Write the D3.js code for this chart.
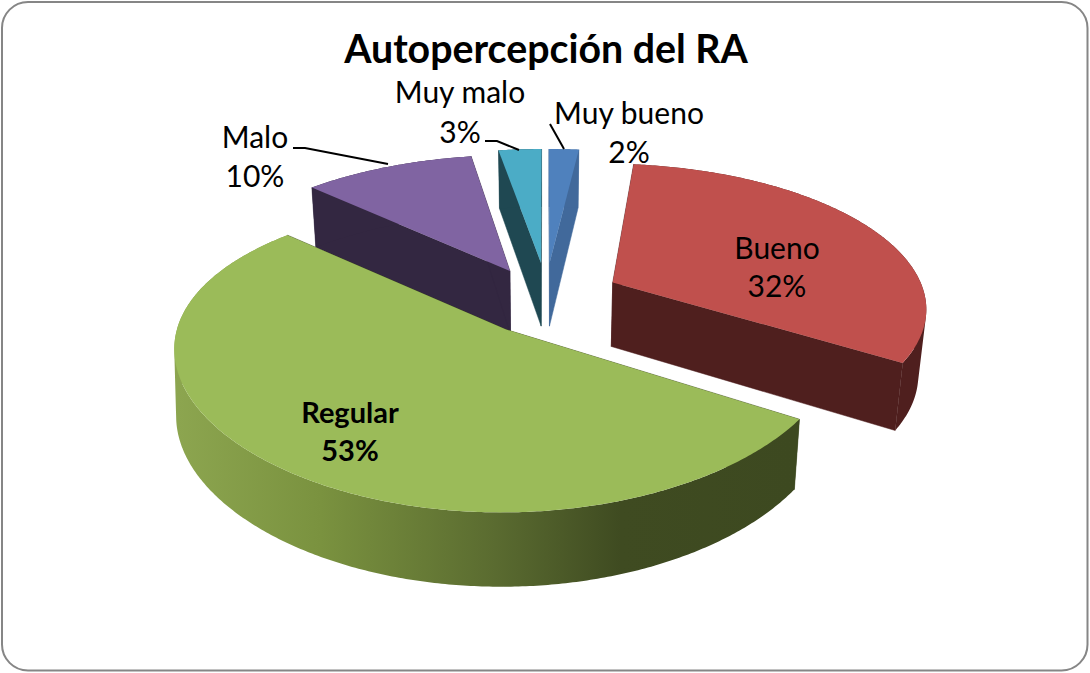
<!DOCTYPE html>
<html><head><meta charset="utf-8">
<script src="https://cdn.jsdelivr.net/npm/d3@7/dist/d3.min.js"></script>
<style>html,body{margin:0;padding:0;background:#fff}svg{display:block}text{font-family:Lato,"Open Sans",sans-serif;fill:#000}</style>
</head><body><svg id="c" width="1090" height="673"></svg>
<script>
// Data
const categories = ["Muy bueno","Bueno","Regular","Malo","Muy malo"];
const values = [1.8,32.2,53.1,10.3,2.6];
const chartTitle = "Autopercepción del RA";
// Styling and layout
const topColors = ["#4f81bd","#c0504d","#9bbb59","#8064a2","#4bacc6"];
const wallColors = ["#41699b","#4f1f1e","#3f4b21","#332741","#1f4852"];
const explodeX = [0.015,0.22,-0.118,-0.114,-0.013];
const explodeZ = [-0.27,-0.125,0.2,-0.21,-0.27];
const sliceA = [318,314,322,318,318];
const sliceKx = [0.16,0.16,0.11,0.16,0.16];
const shrinkLeft = [0.98,0.98,0.995,0.983,0.98];
const shrinkRight = [0.98,0.979,0.98,0.98,0.98];
const labelX = [629,777,350,255,460];
const labelY1 = [124,259,423,148,103];
const labelY2 = [163,297,461,187,143];
const labelBold = [false,false,true,false,false];
const drawOrder = [0,4,3,1,2];
const leaders = [
  [[550,124],[564,149]],
  [[293,148],[305,148],[388,164]],
  [[485,141],[497,141],[519,150]]
];
const cam = {x0:545,y0:300,B:143,k:0.16};

const svg = d3.select("#c");
const defs = svg.append("defs");
const grad = defs.append("linearGradient").attr("id","gw").attr("gradientUnits","userSpaceOnUse")
  .attr("x1",171).attr("x2",795).attr("y1",0).attr("y2",0);
[[0,"#8da650"],[0.24,"#7a923f"],[0.52,"#5a6b30"],[0.72,"#3f4b21"],[1,"#3d4920"]]
  .forEach(s=>grad.append("stop").attr("offset",s[0]).attr("stop-color",s[1]));

svg.append("rect").attr("x",2).attr("y",2).attr("width",1085.5).attr("height",668.5)
  .attr("rx",26).attr("ry",26).attr("fill","#fff").attr("stroke","#868686").attr("stroke-width",2);

function project(X,Z,i){
  return [cam.x0+sliceA[i]*X/(1-sliceKx[i]*Z), cam.y0+cam.B*Z/(1-cam.k*Z)];
}
function drop(p,i){
  const depth = 58+0.045*(p[1]-149);
  const s = p[0]<cam.x0 ? shrinkLeft[i] : shrinkRight[i];
  return [cam.x0+(p[0]-cam.x0)*s, p[1]+depth];
}
// one consistently wound quad per step, so the swept side has no gaps
function sweep(pts,i){
  let d="";
  d3.pairs(pts).forEach(([a,b])=>{
    let q=[a,b,drop(b,i),drop(a,i)];
    if(d3.polygonArea(q)<0) q=q.reverse();
    d+="M"+q.map(p=>p[0].toFixed(2)+","+p[1].toFixed(2)).join("L")+"Z";
  });
  return d;
}
const pie = d3.pie().sort(null).value(d=>d)(values);
const line = d3.line().curve(d3.curveLinear);
const g = svg.append("g");
drawOrder.forEach(i=>{
  const a = pie[i], ex=explodeX[i], ez=explodeZ[i];
  const n = Math.max(2,Math.ceil((a.endAngle-a.startAngle)/0.01));
  const rim = d3.range(n+1).map(j=>{
    const t=a.startAngle+(a.endAngle-a.startAngle)*j/n;
    return project(ex+Math.sin(t), ez-Math.cos(t), i);
  });
  const apex = project(ex,ez,i);
  const wall = i===2 ? "url(#gw)" : wallColors[i];
  [[apex,rim[0]],[apex,rim[n]]].forEach(seg=>{
    g.append("path").attr("d",sweep(seg,i)).attr("fill",wallColors[i]).attr("stroke",wallColors[i]).attr("stroke-width",0.5);
  });
  g.append("path").attr("d",sweep(rim,i)).attr("fill",wall);
  g.append("path").attr("d",line([apex].concat(rim))+"Z").attr("fill",topColors[i]);
});

svg.append("g").selectAll("path").data(leaders).join("path")
  .attr("d",d=>line(d)).attr("fill","none").attr("stroke","#000").attr("stroke-width",2);

svg.append("text").attr("x",546).attr("y",63).attr("text-anchor","middle")
  .attr("font-size",39.3).attr("font-weight",700).text(chartTitle);

const pct = d3.sum(values);
categories.forEach((c,i)=>{
  const fs = labelBold[i]?29:30, fw = labelBold[i]?700:400;
  svg.append("text").attr("x",labelX[i]).attr("y",labelY1[i]).attr("text-anchor","middle")
    .attr("font-size",fs).attr("font-weight",fw).text(c);
  svg.append("text").attr("x",labelX[i]).attr("y",labelY2[i]).attr("text-anchor","middle")
    .attr("font-size",fs).attr("font-weight",fw).text(Math.round(values[i]/pct*100)+"%");
});
</script></body></html>
